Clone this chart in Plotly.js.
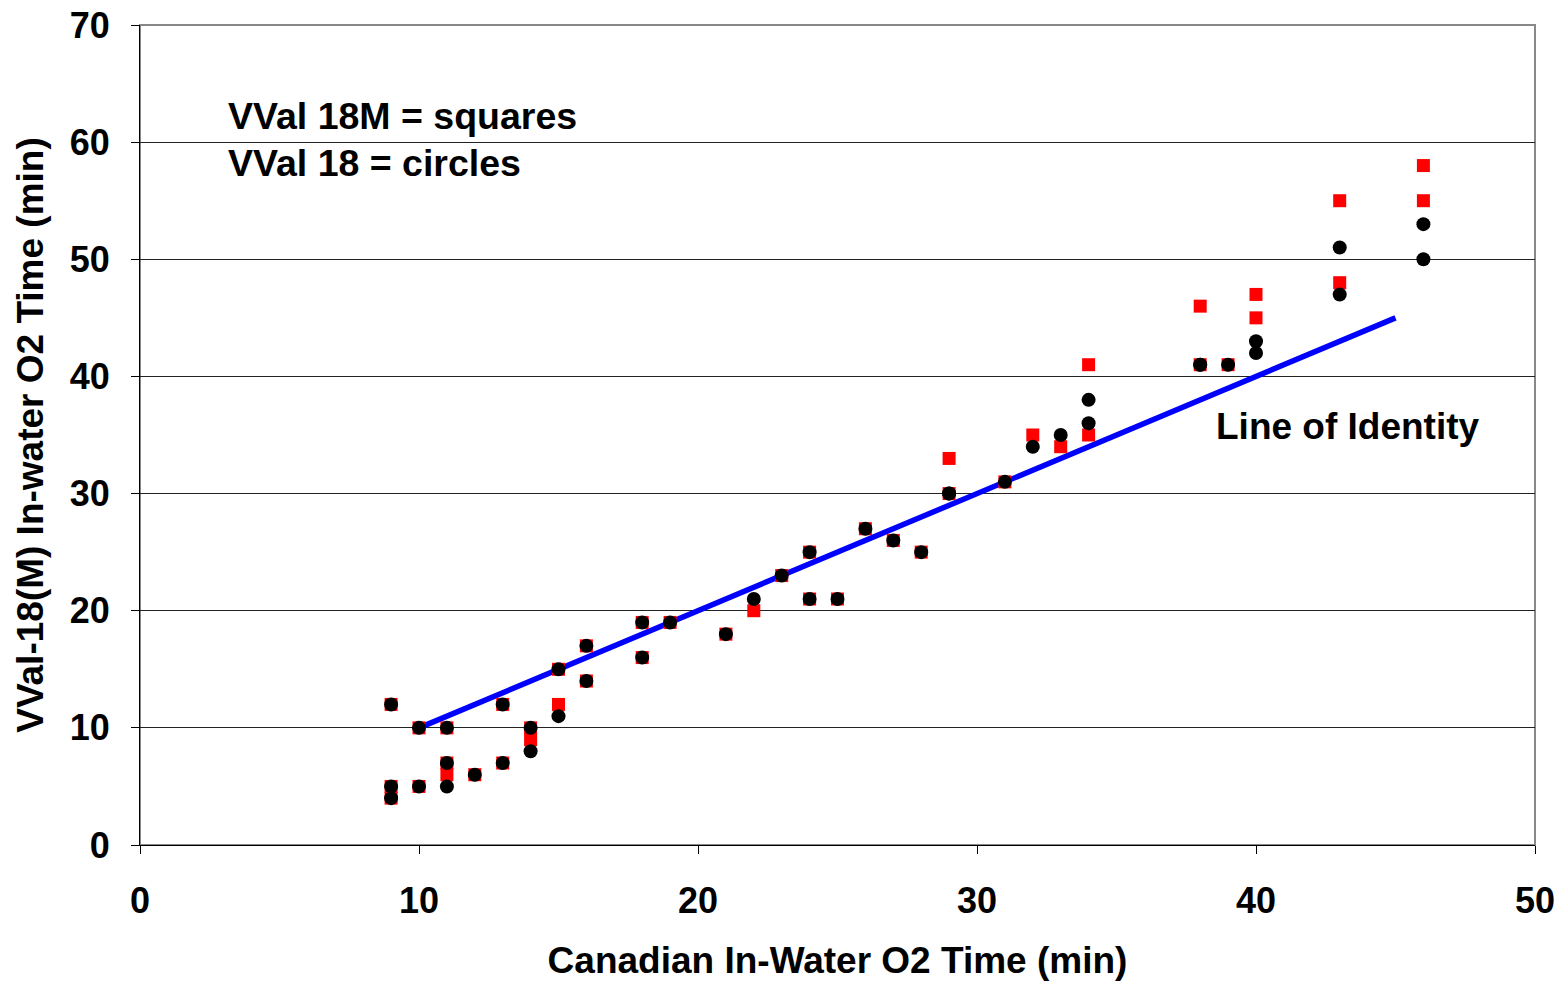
<!DOCTYPE html>
<html>
<head>
<meta charset="utf-8">
<script src="https://cdn.plot.ly/plotly-3.0.1.min.js"></script>
<style>html,body{margin:0;padding:0;background:#fff;}#chart{width:1564px;height:986px;}</style>
</head>
<body>
<div id="chart"></div>
<script>
// Canadian in-water O2 time (min)
const canadianTime = [9,9,9,10,10,11,11,11,12,13,13,14,14,15,15,16,16,18,18,19,21,22,23,24,24,25,26,27,28,29,29,31,32,33,34,34,38,38,39,40,40,43,43,46,46];
// VVal 18M (squares)
const vval18M = [12,5,4,10,5,10,7,6,6,12,7,10,9,15,12,17,14,19,16,19,18,20,23,25,21,21,27,26,25,33,30,31,35,34,41,35,46,41,41,47,45,55,48,58,55];
// VVal 18 (circles)
const vval18 = [12,5,4,10,5,10,7,5,6,12,7,10,8,15,11,17,14,19,16,19,18,21,23,25,21,21,27,26,25,30,30,31,34,35,38,36,41,41,41,43,42,51,47,53,50];
// Line of identity
const identityX = [10,45];
const identityY = [10,45];

const xTicks = [0,10,20,30,40,50];
const yTicks = [0,10,20,30,40,50,60,70];

const FONT = 'Liberation Sans, Arial, sans-serif';

const traces = [
  {x: identityX, y: identityY, mode: 'lines', type: 'scatter', line: {color: '#0000FF', width: 5.5}, hoverinfo: 'skip'},
  {x: canadianTime, y: vval18M, mode: 'markers', type: 'scatter', name: 'VVal 18M',
   marker: {symbol: 'square', size: 13, color: '#FF0000', line: {width: 0}}},
  {x: canadianTime, y: vval18, mode: 'markers', type: 'scatter', name: 'VVal 18',
   marker: {symbol: 'circle', size: 14, color: '#000000', line: {width: 0}}}
];

const layout = {
  width: 1564, height: 986,
  paper_bgcolor: '#fff', plot_bgcolor: '#fff',
  showlegend: false,
  margin: {l: 140, r: 29, t: 25, b: 141},
  font: {family: FONT, color: '#000'},
  xaxis: {
    range: [0, 50], tickvals: xTicks, ticktext: xTicks.map(String),
    showgrid: false, zeroline: false,
    showline: true, linecolor: '#000', linewidth: 1,
    ticks: 'outside', ticklen: 8, tickcolor: '#000', tickwidth: 1,
    ticklabelstandoff: 16,
    tickfont: {family: FONT, size: 36, weight: 'bold', color: '#000'},
    title: {text: 'Canadian In-Water O2 Time (min)', standoff: 26,
            font: {family: FONT, size: 37, weight: 'bold', color: '#000'}}
  },
  yaxis: {
    range: [0, 70], tickvals: yTicks, ticktext: yTicks.map(String),
    showgrid: true, gridcolor: '#222', gridwidth: 1, zeroline: false,
    showline: true, linecolor: '#000', linewidth: 1,
    ticks: 'outside', ticklen: 8, tickcolor: '#000', tickwidth: 1,
    ticklabelstandoff: 14,
    tickfont: {family: FONT, size: 36, weight: 'bold', color: '#000'},
    title: {text: 'VVal-18(M) In-water O2 Time (min)', standoff: 14,
            font: {family: FONT, size: 37, weight: 'bold', color: '#000'}}
  },
  shapes: [
    {type: 'rect', xref: 'paper', yref: 'paper', x0: 0, x1: 1, y0: 0, y1: 1,
     line: {color: '#888', width: 2}, layer: 'below'}
  ],
  annotations: [
    {x: 3.1, y: 62.2, xref: 'x', yref: 'y', xanchor: 'left', yanchor: 'middle', showarrow: false,
     text: 'VVal 18M = squares', font: {family: FONT, size: 37.5, weight: 'bold', color: '#000'}},
    {x: 3.1, y: 58.2, xref: 'x', yref: 'y', xanchor: 'left', yanchor: 'middle', showarrow: false,
     text: 'VVal 18 = circles', font: {family: FONT, size: 37.5, weight: 'bold', color: '#000'}},
    {x: 38.5, y: 35.7, xref: 'x', yref: 'y', xanchor: 'left', yanchor: 'middle', showarrow: false,
     text: 'Line of Identity', font: {family: FONT, size: 37, weight: 'bold', color: '#000'}}
  ]
};

Plotly.newPlot('chart', traces, layout, {displayModeBar: false, staticPlot: true});
</script>
</body>
</html>
